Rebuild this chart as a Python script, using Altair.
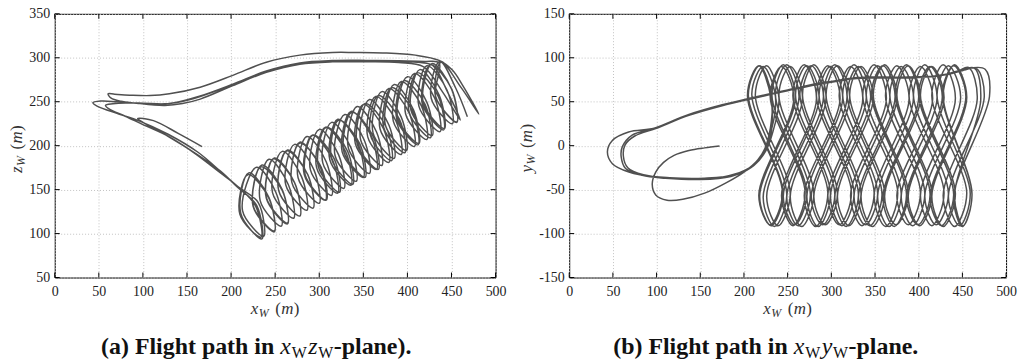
import altair as alt
import pandas as pd

FONT = "Liberation Serif"
LINE_COLOR = "#505050"
TEXT_COLOR = "#222222"

# ---------------- panel (a): x_W - z_W plane ----------------
xz_start = [[167,199],[140,214],[112,228.5],[94,231],[100,226.5],[128,211],[160,191],[188,171],[207,153]]

xz_loops1 = [
    [229,132],[235,94],[211,123],
    [220,169],[243,141],[249,103],[225,132],
    [235,178],[258,150],[264,112],[240,141],
    [249,186],[272,158],[278,120],[254,149],
    [264,195],[287,167],[293,129],[269,158],
    [278,204],[301,176],[307,138],[283,167],
    [292,212],[315,184],[321,146],[297,175],
    [307,221],[330,193],[336,155],[312,184],
    [321,230],[344,202],[350,164],[326,193],
    [336,239],[359,211],[365,173],[341,202],
    [350,247],[373,219],[379,181],[355,210],
    [364,256],[387,228],[393,190],[369,219],
    [379,265],[402,237],[408,199],[384,228],
    [393,273],[416,245],[422,207],[398,236],
    [408,282],[431,254],[437,216],[413,245],
    [422,291],[445,263],[451,225],[427,254],
    [437,296],[461,266],[481,236],
]

xz_return_upper = [[463,268],[451,286],[436,297],[409,303],[372,305.5],[340,306],[315,306],
                   [278,303],[240,295],[202,280],[165,266.5],[130,259],[108,257],[85,257.5],
                   [68,258.5],[60.5,259]]

xz_lower_out = [[64,254],[75,250.5],[91,248.4],[110,246.5],[125,245.8],[145,248],[165,253],
                [202,268.4],[240,283.4],[278,292.7],[315,295.4],[353,295.4],[390,294.6],
                [418,290],[440,261],[460,229]]

xz_lower_back = [[446,260],[429,291],[415,294.5],[390,296],[353,296.5],[315,296.2],[278,293.8],
                 [240,284.5],[202,269.5],[165,256],[140,249.5],[120,247.3],[95,248],[70,250],
                 [52,250.7],[43.3,248.8]]

xz_diag_c = [[48,245],[72.6,236],[95,228.5],[128.6,213],[162.5,192.5],[190,169],[207,154]]

xz_loops2 = [
    [231,135],[237,97],[213,126],
    [229,175.5],[251,146.5],[257,108.5],[233,137.5],
    [243,184.5],[265,155.5],[271,117.5],[247,146.5],
    [258,193.5],[280,164.5],[286,126.5],[262,155.5],
    [272,201.5],[294,172.5],[300,134.5],[276,163.5],
    [286,210.5],[308,181.5],[314,143.5],[290,172.5],
    [300,218.5],[322,189.5],[328,151.5],[304,180.5],
    [314,226.5],[336,197.5],[342,159.5],[318,188.5],
    [329,235.5],[351,206.5],[357,168.5],[333,197.5],
    [343,244.5],[365,215.5],[371,177.5],[347,206.5],
    [357,252.5],[379,223.5],[385,185.5],[361,214.5],
    [371,261.5],[393,232.5],[399,194.5],[375,223.5],
    [385,269.5],[407,240.5],[413,202.5],[389,231.5],
    [400,278.5],[422,249.5],[428,211.5],[404,240.5],
    [414,286.5],[436,257.5],[442,219.5],[418,248.5],
    [428,293.5],[450,264.5],[456,226.5],[432,255.5],
    [436,294],
]

xz_return_lower2 = [[420,295.8],[390,296.5],[353,297],[315,296.8],[278,294.2],[240,285],[202,270],
                    [165,256.5],[140,249.8],[125,247.5],[100,248.3],[80,248.6],[66,247.6],[57.6,245.8]]

xz_diag_d = [[62,241.5],[80,233.5],[100,224],[130,210],[160,190.5],[188,169],[206,155]]

xz_loops3 = [
    [228,131],[234,96],[210,122],
    [219,167],[243,140],[249,102],[225,131],
    [234,176],[258,149],[264,111],[240,140],
    [248,185],[272,158],[278,120],[254,149],
    [263,194],[287,167],[293,129],[269,158],
    [278,203],[302,176],[308,138],[284,167],
    [293,212],[317,185],[323,147],[299,176],
    [308,221],[332,194],[338,156],[314,185],
    [322,229],[346,202],[352,164],[328,193],
    [337,238],[361,211],[367,173],[343,202],
    [352,248],[376,221],[382,183],[358,212],
    [367,257],[391,230],[397,192],[373,221],
    [382,266],[406,239],[412,201],[388,230],
    [396,274],[420,247],[426,209],[402,238],
    [411,283],[435,256],[441,218],[417,247],
    [426,292],[450,265],[456,227],[432,256],
    [438,295],[455,265],[468,233],
]

# ---------------- panel (b): x_W - y_W plane ----------------
xy_start = [[172,-0.5],[155,-2.5],[137,-5.5],[120,-11],[108,-19],[99,-30],[95,-44],[99,-56],
            [112,-62],[130,-61],[155,-54],[180,-42],[200,-30],[216,-16],[226,2]]

xy_phase1 = [
    [232,55],[218,91],[205,58],[245,-55],[231,-91],[218,-58],
    [259,55],[245,92],[232,58],[272,-55],[258,-90],[245,-58],
    [286,55],[272,91],[259,58],[299,-55],[285,-92],[272,-58],
    [313,55],[299,90],[286,58],[326,-55],[312,-91],[299,-58],
    [340,55],[326,92],[313,58],[353,-55],[339,-90],[326,-58],
    [367,55],[353,91],[340,58],[380,-55],[366,-92],[353,-58],
    [394,55],[380,90],[367,58],[407,-55],[393,-91],[380,-58],
    [421,55],[407,92],[394,58],[434,-55],[420,-90],[407,-58],
    [448,55],[434,91],[421,58],[459,-55],[447,-91],[434,-58],
    [475,55],[466,88],
]

xy_return1 = [[452,86],[438,82],[420,79],[390,77.5],[360,77.5],[340,77.5],[320,76],[300,72.5],
              [288,71],[250,63],[209,54],[175,46],[137,35],[99,20],[68,15.6],[49.4,6],[43.7,-7.2],
              [49.4,-20.5],[68.3,-30],[98.7,-35.8],[136.7,-37.6],[174.6,-35.8],[201.3,-28],
              [218,-15],[227,3]]

xy_phase2 = [
    [236,56],[222,90],[209,59],[249,-56],[235,-92],[222,-59],
    [263,56],[249,92],[236,59],[276,-56],[262,-91],[249,-59],
    [291,56],[277,91],[264,59],[304,-56],[290,-90],[277,-59],
    [318,56],[304,92],[291,59],[331,-56],[317,-92],[304,-59],
    [345,56],[331,90],[318,59],[358,-56],[344,-91],[331,-59],
    [373,56],[359,91],[346,59],[386,-56],[372,-92],[359,-59],
    [400,56],[386,92],[373,59],[413,-56],[399,-90],[386,-59],
    [427,56],[413,90],[400,59],[440,-56],[426,-91],[413,-59],
    [454,56],[440,91],[427,59],[461,-56],[450,-92],[440,-59],
    [481,56],[476,87],
]

xy_return2 = [[460,88.5],[440,83],[420,79.5],[390,78],[360,78],[340,78],[320,76.5],[300,73],
              [288,71.5],[250,63.5],[209,54.5],[175,46.5],[137,35.5],[99,20.5],[72,12],
              [60.7,-1.4],[59.5,-12.8],[64.5,-26],[83.5,-33.8],[110,-37],[150,-38.5],[185,-35],
              [208,-25],[222,-10],[230,8]]

xy_phase3 = [
    [231,54],[217,91],[204,57],[244,-54],[230,-90],[217,-57],
    [257,54],[243,90],[230,57],[270,-54],[256,-91],[243,-57],
    [283,54],[269,92],[256,57],[296,-54],[282,-92],[269,-57],
    [310,54],[296,91],[283,57],[323,-54],[309,-90],[296,-57],
    [336,54],[322,90],[309,57],[349,-54],[335,-91],[322,-57],
    [363,54],[349,92],[336,57],[376,-54],[362,-92],[349,-57],
    [389,54],[375,91],[362,57],[402,-54],[388,-90],[375,-57],
    [416,54],[402,90],[389,57],[429,-54],[415,-91],[402,-57],
    [442,54],[428,92],[415,57],[455,-54],[441,-92],[428,-57],
    [467,53],[457,89],
]

xy_return3 = [[445,85],[430,81],[410,78.5],[390,77],[360,77],[340,77],[320,75.5],[300,72],
              [288,70.5],[250,62.5],[209,53.5],[175,45.5],[137,34.5],[99,19.5],[75,11],[64,1],
              [62,-12],[67,-25],[85,-33],[115,-36.5],[155,-37],[190,-33],[212,-22],[225,-6],[232,12]]

xy_phase4 = [
    [240,55],[226,91],[213,58],[253,-55],[239,-91],[226,-58],
    [267,55],[253,90],[240,58],[280,-55],[266,-92],[253,-58],
    [294,55],[280,92],[267,58],[307,-55],[293,-90],[280,-58],
    [321,55],[307,91],[294,58],[334,-55],[320,-91],[307,-58],
    [348,55],[334,90],[321,58],[361,-55],[347,-92],[334,-58],
    [375,55],[361,92],[348,58],[388,-55],[374,-90],[361,-58],
    [402,55],[388,91],[375,58],[415,-55],[401,-91],[388,-58],
    [429,55],[415,90],[402,58],[442,-55],[428,-92],[415,-58],
    [455,55],[441,92],[428,58],[461,-55],[451,-91],[441,-58],
    [471,52],[464,88],[450,86],
]

x_ticks = [0, 50, 100, 150, 200, 250, 300, 350, 400, 450, 500]
z_ticks = [50, 100, 150, 200, 250, 300, 350]
y_ticks = [-150, -100, -50, 0, 50, 100, 150]

xz_segments = [xz_start, xz_loops1, xz_return_upper, xz_lower_out, xz_lower_back, xz_diag_c,
               xz_loops2, xz_return_lower2, xz_diag_d, xz_loops3]
xy_segments = [xy_start, xy_phase1, xy_return1, xy_phase2, xy_return2, xy_phase3, xy_return3, xy_phase4]


def path_frame(segs):
    rows = []
    for seg in segs:
        for px, py in seg:
            rows.append({"i": len(rows), "x": px, "v": py})
    return pd.DataFrame(rows)


# Times-compatible advance widths (Liberation Serif) for placing rich text pieces
W_REG = {" ": 250, "(": 333, ")": 333, ".": 250, "-": 333, "W": 944, "m": 778}
W_BOLD = {" ": 250, "(": 333, ")": 333, ".": 250, "-": 333, "a": 500, "b": 556, "e": 444,
          "F": 611, "g": 500, "h": 556, "i": 278, "l": 278, "n": 556, "p": 556, "t": 333}
W_ITAL = {"x": 444, "y": 444, "z": 389, "m": 722, "W": 833}


def text_width(s, size, kind):
    table = {"reg": W_REG, "bold": W_BOLD, "ital": W_ITAL}[kind]
    return sum(table.get(c, 500) for c in s) * size / 1000.0


def rich_text(parts, ax, ay, angle=0, color=TEXT_COLOR):
    total = sum(text_width(t, s, k) + g for t, s, k, d, g in parts)
    one = pd.DataFrame({"k": [0]})
    layers = []
    off = -total / 2.0
    for t, s, k, d, g in parts:
        props = dict(text=t, font=FONT, fontSize=s, align="left", baseline="alphabetic",
                     dx=off, dy=d, color=color, angle=angle)
        if k == "bold":
            props["fontWeight"] = "bold"
        if k == "ital":
            props["fontStyle"] = "italic"
        layers.append(alt.Chart(one).mark_text(**props).encode(x=alt.value(ax), y=alt.value(ay)))
        off += text_width(t, s, k) + g
    return layers


def make_panel(segs, ydom, yticks, W, H, ysym, xtitle_c, ytitle_x, ytitle_c, cap_parts, cap_c):
    df = path_frame(segs)
    xs = alt.Scale(domain=[0, 500], nice=False, zero=False)
    ys = alt.Scale(domain=ydom, nice=False, zero=False)
    common_axis = dict(title=None, domain=False, ticks=False, grid=True, gridColor="#c2c2c2",
                       gridDash=[1, 2], gridWidth=1, labelFont=FONT, labelFontSize=14,
                       labelColor=TEXT_COLOR, labelExpr="'' + datum.value",
                       labelFlush=False, labelOverlap=False)
    ax_x = alt.Axis(values=x_ticks, labelPadding=7, **common_axis)
    ax_y = alt.Axis(values=yticks, labelPadding=5, **common_axis)
    line = alt.Chart(df).mark_line(color=LINE_COLOR, strokeWidth=1.5, interpolate="catmull-rom").encode(
        x=alt.X("x:Q", scale=xs, axis=ax_x),
        y=alt.Y("v:Q", scale=ys, axis=ax_y),
        order=alt.Order("i:Q"),
    )
    dxt = pd.DataFrame({"x": x_ticks})
    dyt = pd.DataFrame({"v": yticks})
    ex = alt.X("x:Q", scale=xs, axis=ax_x)
    ey = alt.Y("v:Q", scale=ys, axis=ax_y)
    rp = dict(color="black", strokeWidth=1)
    ticks = [
        alt.Chart(dxt).mark_rule(**rp).encode(x=ex, y=alt.value(H), y2=alt.value(H - 5)),
        alt.Chart(dxt).mark_rule(**rp).encode(x=ex, y=alt.value(0), y2=alt.value(5)),
        alt.Chart(dyt).mark_rule(**rp).encode(y=ey, x=alt.value(0), x2=alt.value(5)),
        alt.Chart(dyt).mark_rule(**rp).encode(y=ey, x=alt.value(W - 5), x2=alt.value(W)),
    ]
    xtitle = rich_text([("x", 17, "ital", 0, 0.5), ("W", 12, "ital", 3, 6.5),
                        ("(", 17, "reg", 0, 0.3), ("m", 17, "ital", 0, 0.5), (")", 17, "reg", 0, 0)],
                       xtitle_c, 302, color="#333333")
    ytitle = rich_text([(ysym, 17, "ital", 0, 0.5), ("W", 12, "ital", 3, 6.5),
                        ("(", 17, "reg", 0, 0.3), ("m", 17, "ital", 0, 0.5), (")", 17, "reg", 0, 0)],
                       ytitle_x, ytitle_c, angle=270, color="#333333")
    caption = rich_text(cap_parts, cap_c, 342, color="#111111")
    return alt.layer(line, *ticks, *xtitle, *ytitle, *caption).properties(width=W, height=H)


cap_a = [("(a) Flight path in ", 24, "bold", 0, 0), ("x", 24, "ital", 0, 0.8), ("W", 16, "reg", 4, 1.5),
         ("z", 24, "ital", 0, 0.8), ("W", 16, "reg", 4, 0.5), ("-plane).", 24, "bold", 0, 0)]
cap_b = [("(b) Flight path in ", 24, "bold", 0, 0), ("x", 24, "ital", 0, 0.8), ("W", 16, "reg", 4, 1.5),
         ("y", 24, "ital", 0, 0.8), ("W", 16, "reg", 4, 0.5), ("-plane.", 24, "bold", 0, 0)]

left = make_panel(xz_segments, [50, 350], z_ticks, 443, 265, "z", 221.5, -33, 136, cap_a, 202.5)
right = make_panel(xy_segments, [-150, 150], y_ticks, 439, 265, "y", 219.5, -37, 135, cap_b, 197.5)

chart = alt.hconcat(left, right, spacing=74, bounds="flush").properties(
    padding={"left": 7, "top": 5, "right": 5, "bottom": 0}
).configure_view(stroke="black", strokeWidth=1)

chart.save("out.html", embed_options={"renderer": "svg", "actions": False})
